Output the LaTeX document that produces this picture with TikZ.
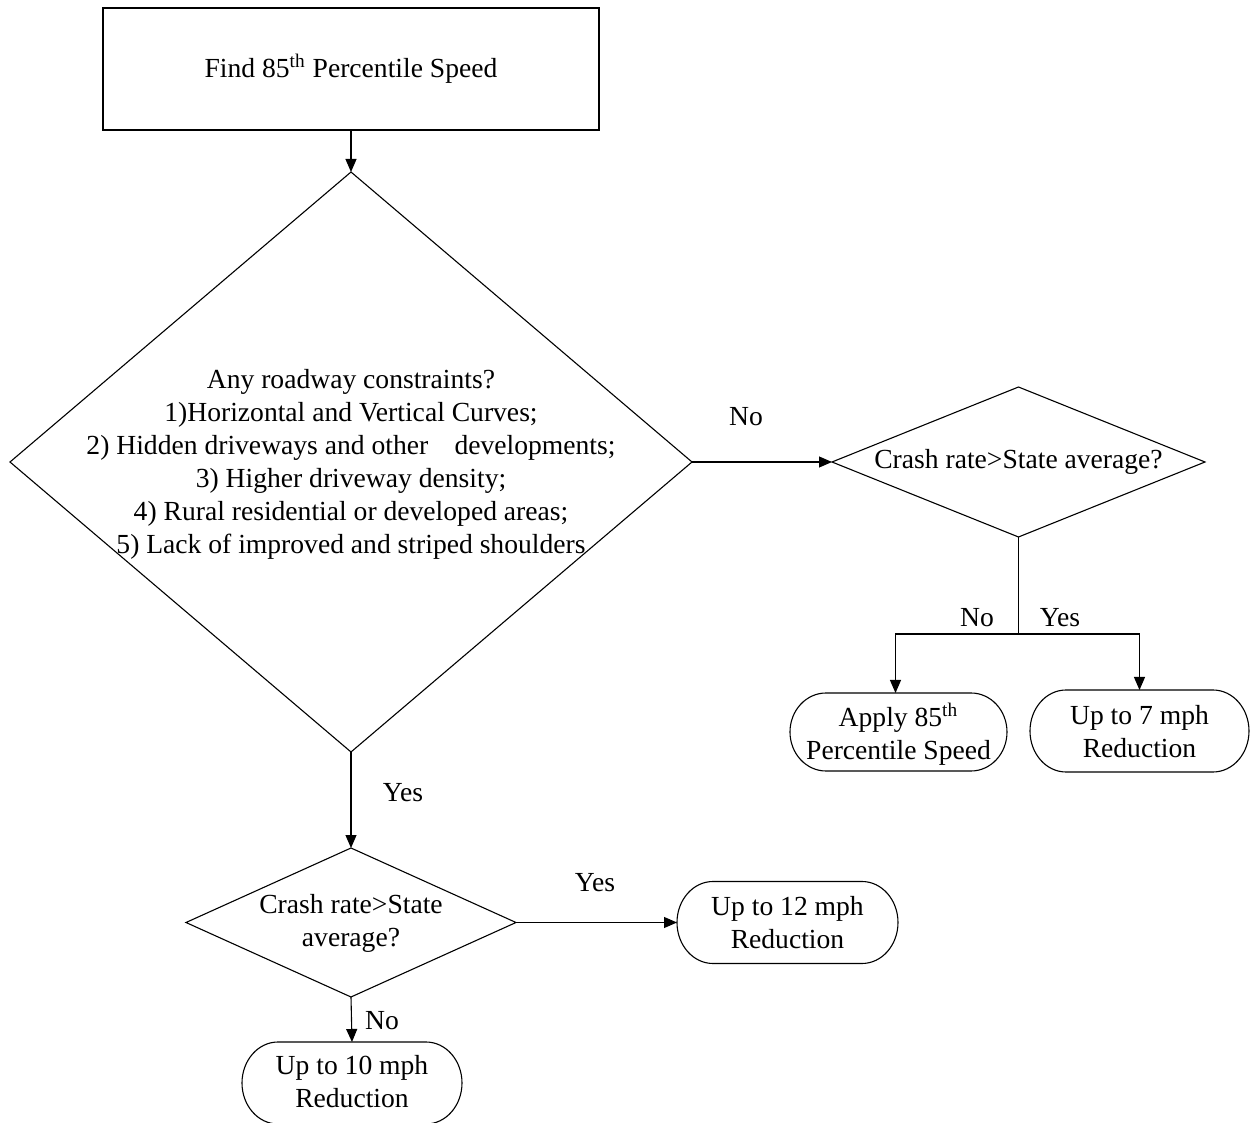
\documentclass[tikz,border=0pt]{standalone}
\usepackage{fontspec}
\setmainfont{Liberation Serif}
\usetikzlibrary{shapes.geometric,arrows.meta}
\newcommand\tboxoutline[2]{%
  \draw[conn] ([xshift=18pt]#1.north west) -- ([xshift=-18pt]#1.north east)
    arc[start angle=90,end angle=-90,x radius=18pt,y radius=#2]
    -- ([xshift=18pt]#1.south west)
    arc[start angle=270,end angle=90,x radius=18pt,y radius=#2] -- cycle;}
\begin{document}
\begin{tikzpicture}[x=0.5pt,y=-0.5pt,
  every node/.style={font=\fontsize{13.8}{16.5}\selectfont},
  shp/.style={draw, line width=0.55pt, inner sep=0pt, outer sep=0pt},
  dia/.style={shp, diamond},
  rr/.style={rectangle, inner sep=0pt, outer sep=0pt},
  txt/.style={align=center, inner sep=0pt},
  lbl/.style={inner sep=0pt},
  arr/.style={line width=0.55pt, -{Triangle[length=6.5pt,width=5.5pt]}},
  conn/.style={line width=0.55pt}
]
\useasboundingbox (0,0) rectangle (1250,1123);

% top box
\node[shp, minimum width=248pt, minimum height=61pt] (find) at (351,69) {Find 85\textsuperscript{th} Percentile Speed};

% big diamond
\node[dia, minimum width=341pt, minimum height=290pt] (big) at (351,462) {};
\node[txt] (bigt) at (351,464) {Any roadway constraints?\\
1)Horizontal and Vertical Curves;\\
2) Hidden driveways and other\hspace{0.7em} developments;\\
3) Higher driveway density;\\
4) Rural residential or developed areas;\\
5) Lack of improved and striped shoulders};

% right diamond
\node[dia, minimum width=186.5pt, minimum height=75pt] (rd) at (1018.5,462) {};
\node[txt] (rdt) at (1018.5,462) {Crash rate>State average?};

% lower diamond
\node[dia, minimum width=165pt, minimum height=74.5pt] (ld) at (351,922.5) {};
\node[txt] (ldt) at (351,923) {Crash rate>State\\average?};

% terminal boxes
\node[rr, minimum width=108.5pt, minimum height=39pt] (apply) at (898.5,732) {};
\tboxoutline{apply}{19.5pt}
\node[txt] (applyt) at (898.5,734) {Apply 85\textsuperscript{th}\\Percentile Speed};

\node[rr, minimum width=109.5pt, minimum height=41pt] (seven) at (1139.5,731) {};
\tboxoutline{seven}{20.5pt}
\node[txt] (sevent) at (1139.5,732) {Up to 7 mph\\Reduction};

\node[rr, minimum width=110.5pt, minimum height=41pt] (twelve) at (787.5,922.5) {};
\tboxoutline{twelve}{20.5pt}
\node[txt] (twelvet) at (787.5,923) {Up to 12 mph\\Reduction};

\node[rr, minimum width=110pt, minimum height=41pt] (ten) at (352,1083) {};
\tboxoutline{ten}{20.5pt}
\node[txt] (tent) at (352,1082) {Up to 10 mph\\Reduction};

% connectors
\draw[arr] (find.south) -- (big.north);
\draw[arr] (big.east) -- (rd.west);
\node[lbl] (no1) at (746,417) {No};

\coordinate (j) at (1018.5,634);
\draw[conn] (rd.south) -- (j);
\draw[arr] (j) -| ([xshift=-1.5pt]apply.north);
\draw[arr] (j) -| (seven.north);
\node[lbl] (no2) at (977,618) {No};
\node[lbl] (yes2) at (1060,618) {Yes};

\draw[arr] (big.south) -- (ld.north);
\node[lbl] (yes1) at (403,793) {Yes};

\draw[arr] (ld.east) -- (twelve.west);
\node[lbl] (yes3) at (595,883) {Yes};

\draw[arr] (ld.south) -- (ten.north);
\node[lbl] (no3) at (382,1021) {No};
\end{tikzpicture}
\end{document}
